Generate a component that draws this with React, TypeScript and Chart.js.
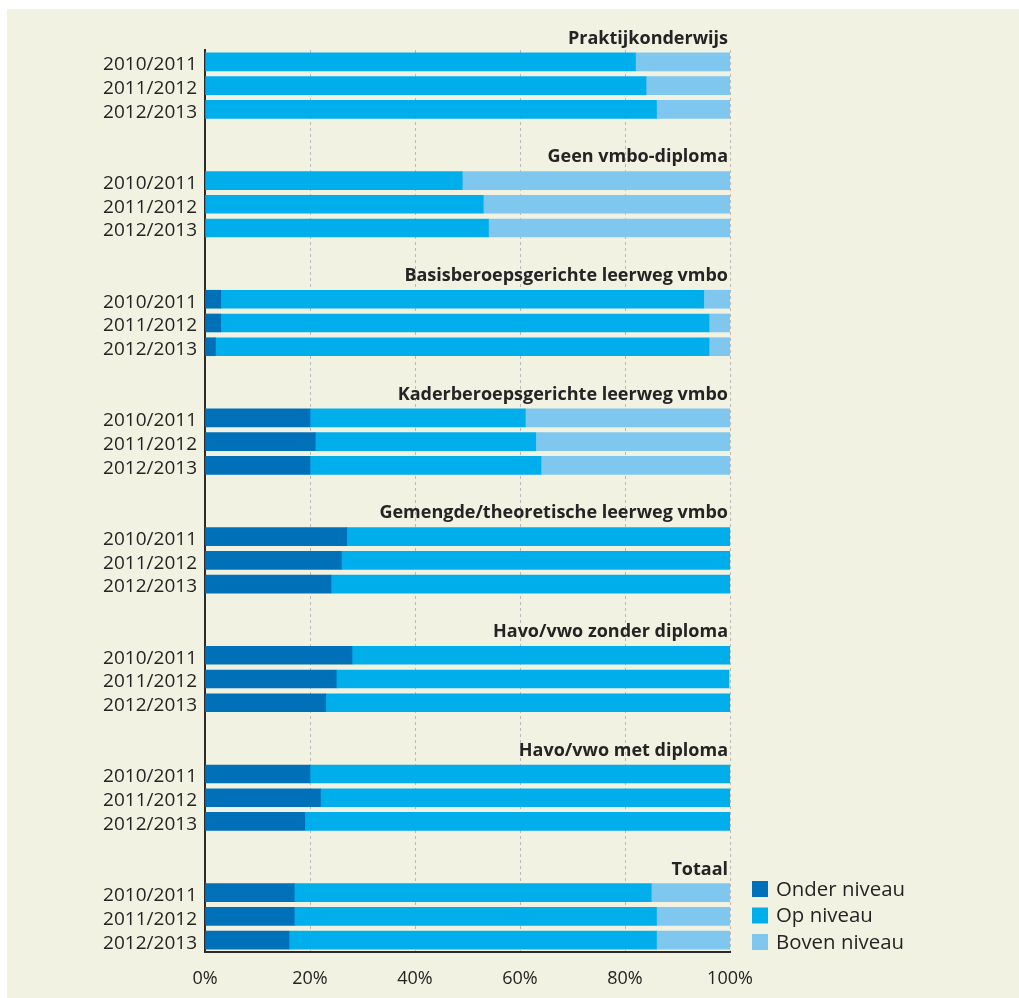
import React, { useEffect, useRef } from 'react';
import { Chart, registerables } from 'chart.js';

Chart.register(...registerables);

const groups = [
  'Praktijkonderwijs',
  'Geen vmbo-diploma',
  'Basisberoepsgerichte leerweg vmbo',
  'Kaderberoepsgerichte leerweg vmbo',
  'Gemengde/theoretische leerweg vmbo',
  'Havo/vwo zonder diploma',
  'Havo/vwo met diploma',
  'Totaal',
];
const years = ['2010/2011', '2011/2012', '2012/2013'];

const onderNiveau = [
  [0, 0, 0],
  [0, 0, 0],
  [3, 3, 2],
  [20, 21, 20],
  [27, 26, 24],
  [28, 25, 23],
  [20, 22, 19],
  [17, 17, 16],
];
const opNiveau = [
  [82, 84, 86],
  [49, 53, 54],
  [92, 93, 94],
  [41, 42, 44],
  [73, 74, 76],
  [72, 74.8, 77],
  [80, 78, 81],
  [68, 69, 70],
];
const bovenNiveau = [
  [18, 16, 14],
  [51, 47, 46],
  [5, 4, 4],
  [39, 37, 36],
  [0, 0, 0],
  [0, 0, 0],
  [0, 0, 0],
  [15, 14, 14],
];

const seriesNames = ['Onder niveau', 'Op niveau', 'Boven niveau'];
const seriesColors = ['#0071b9', '#00aeeb', '#7fc7ee'];
const xTicks = [0, 20, 40, 60, 80, 100];

const FONT = "'Open Sans', 'Noto Sans', sans-serif";
const TEXT = '#262324';
const BG = '#f2f2e2';

export default function App() {
  const ref = useRef<HTMLCanvasElement | null>(null);

  useEffect(() => {
    if (!ref.current) return;

    // Build row structure: [blank, title] before each group except the first, then 3 year rows
    const labels: string[] = [];
    const titleIndex: number[] = [];
    const rowRef: ([number, number] | null)[] = [];
    groups.forEach((_, g) => {
      if (g === 0) {
        titleIndex.push(-1);
      } else {
        labels.push('');
        rowRef.push(null);
        titleIndex.push(labels.length);
        labels.push('');
        rowRef.push(null);
      }
      years.forEach((y, k) => {
        labels.push(y);
        rowRef.push([g, k]);
      });
    });

    const series = [onderNiveau, opNiveau, bovenNiveau];
    const datasets = series.map((s, i) => ({
      label: seriesNames[i],
      data: rowRef.map((r) => (r ? s[r[0]][r[1]] : null)),
      backgroundColor: seriesColors[i],
      borderWidth: 0,
      barThickness: 18,
    }));

    const titlePlugin = {
      id: 'groupTitles',
      afterDraw(chart: any) {
        const { ctx, chartArea } = chart;
        const ys = chart.scales.y;
        const step = ys.getPixelForValue(1) - ys.getPixelForValue(0);
        ctx.save();
        ctx.font = `bold 18px ${FONT}`;
        ctx.fillStyle = TEXT;
        ctx.textAlign = 'right';
        ctx.textBaseline = 'middle';
        titleIndex.forEach((idx, g) => {
          const py = idx < 0 ? ys.getPixelForValue(0) - step : ys.getPixelForValue(idx);
          ctx.fillText(groups[g], chartArea.right - 2, py + 0.5);
        });
        ctx.restore();
      },
    };

    const legendPlugin = {
      id: 'sideLegend',
      afterDraw(chart: any) {
        const { ctx, chartArea } = chart;
        const rowH = 26.5;
        const n = chart.data.datasets.length;
        ctx.save();
        ctx.font = `20.4px ${FONT}`;
        ctx.textAlign = 'left';
        ctx.textBaseline = 'middle';
        chart.data.datasets.forEach((ds: any, i: number) => {
          const cy = chartArea.bottom - 10 - (n - 1 - i) * rowH;
          ctx.fillStyle = ds.backgroundColor;
          ctx.fillRect(chartArea.right + 22, cy - 8, 16, 16);
          ctx.fillStyle = TEXT;
          ctx.fillText(ds.label, chartArea.right + 46, cy + 1);
        });
        ctx.restore();
      },
    };

    const chart = new Chart(ref.current, {
      type: 'bar',
      data: { labels, datasets },
      options: {
        indexAxis: 'y',
        responsive: false,
        animation: false,
        layout: { padding: { top: 41, right: 289, bottom: 0, left: 0 } },
        plugins: {
          legend: { display: false },
          tooltip: { enabled: false },
        },
        scales: {
          x: {
            type: 'linear',
            min: 0,
            max: 100,
            stacked: true,
            position: 'bottom',
            afterBuildTicks: (s: any) => {
              s.ticks = xTicks.map((v) => ({ value: v }));
            },
            afterFit: (s: any) => {
              s.height = 46;
            },
            ticks: {
              callback: (v: any) => `${v}%`,
              font: { family: FONT, size: 18 },
              color: TEXT,
              padding: 16,
            },
            grid: {
              drawTicks: false,
              lineWidth: 1,
              color: (c: any) => (c.tick && c.tick.value === 0 ? 'rgba(0,0,0,0)' : '#b9b9b9'),
            },
            border: { display: true, color: '#2b2b2b', width: 2, dash: [3, 3] },
          },
          y: {
            type: 'category',
            stacked: true,
            afterFit: (s: any) => {
              s.width = 198;
            },
            ticks: {
              autoSkip: false,
              font: { family: FONT, size: 19 },
              color: TEXT,
              padding: 8,
              labelOffset: 3,
            },
            grid: { display: false, drawTicks: false },
            border: { display: true, color: '#2b2b2b', width: 2 },
          },
        },
      },
      plugins: [titlePlugin, legendPlugin],
    } as any);

    return () => chart.destroy();
  }, []);

  return (
    <div
      style={{
        position: 'absolute',
        left: 7,
        top: 9,
        width: 1012,
        height: 989,
        background: BG,
      }}
    >
      <canvas ref={ref} width={1012} height={989} style={{ display: 'block' }} />
    </div>
  );
}
